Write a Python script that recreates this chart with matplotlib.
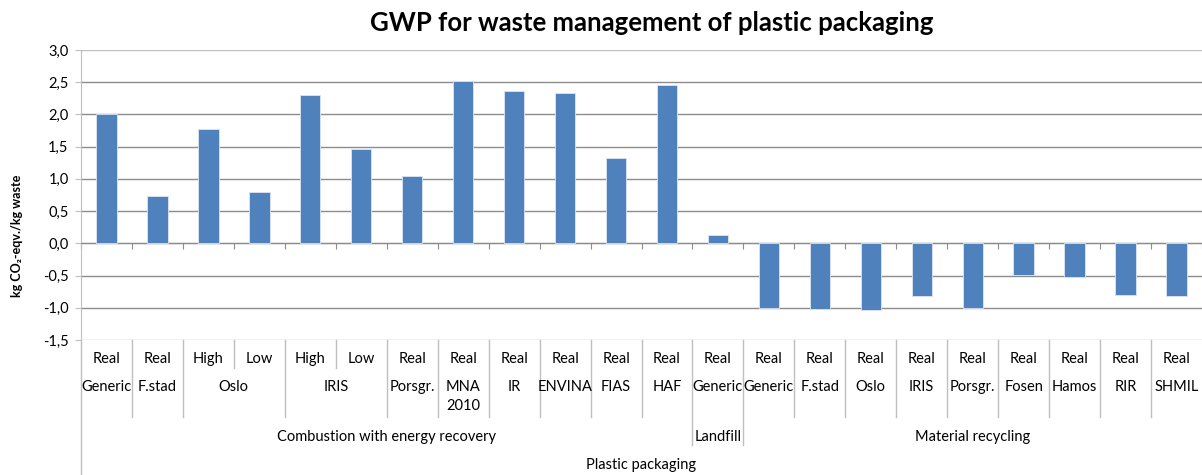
import numpy as np
import matplotlib
matplotlib.use("Agg")
from matplotlib import pyplot as plt
from matplotlib.lines import Line2D
from matplotlib.transforms import blended_transform_factory

plt.rcParams['font.family'] = ['Lato', 'DejaVu Sans']

# data
values = [2.01, 0.74, 1.78, 0.80, 2.30, 1.46, 1.04, 2.52, 2.37, 2.33, 1.33, 2.45,
          0.13,
          -1.01, -1.02, -1.03, -0.81, -1.01, -0.49, -0.52, -0.80, -0.82]
level1 = ['Real', 'Real', 'High', 'Low', 'High', 'Low', 'Real', 'Real', 'Real', 'Real',
          'Real', 'Real', 'Real', 'Real', 'Real', 'Real', 'Real', 'Real', 'Real', 'Real',
          'Real', 'Real']
level2 = [('Generic', 1), ('F.stad', 1), ('Oslo', 2), ('IRIS', 2), ('Porsgr.', 1),
          ('MNA\n2010', 1), ('IR', 1), ('ENVINA', 1), ('FIAS', 1), ('HAF', 1),
          ('Generic', 1),
          ('Generic', 1), ('F.stad', 1), ('Oslo', 1), ('IRIS', 1), ('Porsgr.', 1),
          ('Fosen', 1), ('Hamos', 1), ('RIR', 1), ('SHMIL', 1)]
level3 = [('Combustion with energy recovery', 12), ('Landfill', 1), ('Material recycling', 9)]
level4 = [('Plastic packaging', 22)]
y_ticks = [-1.5, -1.0, -0.5, 0.0, 0.5, 1.0, 1.5, 2.0, 2.5, 3.0]

W, H = 1202, 475
fig = plt.figure(figsize=(W / 100, H / 100), dpi=100)
ax = fig.add_axes([81 / W, 1 - 340 / H, 1 - 81 / W, (340 - 50) / H])

n = len(values)
x = np.arange(n)
ax.bar(x, values, width=0.4, color='#4F81BD', edgecolor='#dce6f2', linewidth=0.6, zorder=3)

ax.set_xlim(-0.5, n - 0.5 - 3 / 51.1)
ax.set_ylim(-1.5, 3.0)
ax.set_yticks(y_ticks)
ax.set_yticklabels([f"{v:.1f}".replace('.', ',') for v in y_ticks], fontsize=10.5)
ax.yaxis.grid(True, color='#8c8c8c', linewidth=1.0, zorder=0)
fig.canvas.draw()
for v, gl in zip(y_ticks, ax.yaxis.get_gridlines()):
    if v in (-1.5, 3.0):
        gl.set_color('#c0c0c0')

ax.spines['top'].set_visible(False)
ax.spines['right'].set_visible(False)
ax.spines['left'].set_color('#bfbfbf')
ax.spines['bottom'].set_position(('data', 0))
ax.spines['bottom'].set_color('#8c8c8c')
ax.set_xticks(np.arange(-0.5, n, 1.0))
ax.set_xticklabels([])
ax.tick_params(axis='x', direction='out', length=4, color='#8c8c8c')
ax.tick_params(axis='y', direction='out', length=4, color='#bfbfbf', pad=5)

fig.text(652 / W, 1 - 23 / H, 'GWP for waste management of plastic packaging',
         ha='center', va='center', fontsize=18.5, fontweight='bold')
fig.text(17 / W, 1 - 236 / H, 'kg CO\u2082-eqv./kg waste', rotation=90,
         ha='center', va='center', fontsize=9, fontweight='bold')

# multi-level category axis
tr = blended_transform_factory(ax.transData, fig.transFigure)


def fy(p):
    return 1 - p / H


line_col = '#bfbfbf'


def vline(xd, bottom_px):
    ax.add_line(Line2D([xd, xd], [fy(340), fy(bottom_px)], transform=tr,
                       color=line_col, linewidth=1.0, clip_on=False))


for i, lab in enumerate(level1):
    ax.text(i, fy(359), lab, transform=tr, ha='center', va='center', fontsize=10.5)

b2 = set()
pos = 0
for lab, cnt in level2:
    ax.text(pos + (cnt - 1) / 2, fy(380), lab, transform=tr, ha='center', va='top',
            fontsize=10.5, linespacing=1.45)
    pos += cnt
    b2.add(pos)

b3 = set()
pos = 0
for lab, cnt in level3:
    ax.text(pos + (cnt - 1) / 2, fy(437), lab, transform=tr, ha='center', va='center',
            fontsize=10.5)
    pos += cnt
    b3.add(pos)

for lab, cnt in level4:
    ax.text((cnt - 1) / 2, fy(465), lab, transform=tr, ha='center', va='center',
            fontsize=10.5)

for k in range(1, n):
    if k in b3:
        vline(k - 0.5, 445)
    elif k in b2:
        vline(k - 0.5, 417)
    else:
        vline(k - 0.5, 368)
vline(-0.5, 475)

fig.savefig('out.png', dpi=100)
